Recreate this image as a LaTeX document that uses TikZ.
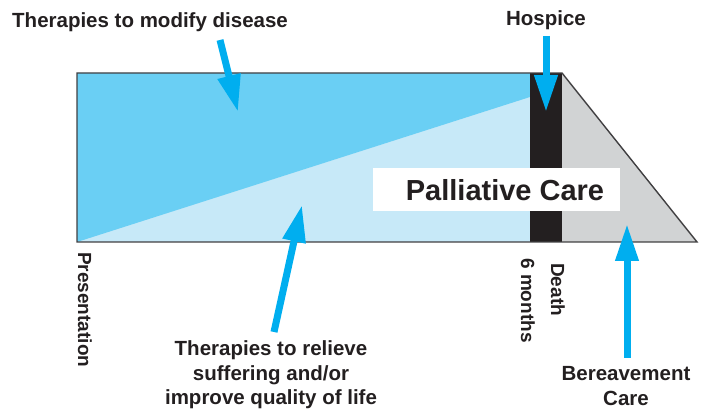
\documentclass[tikz,border=0pt]{standalone}
\usepackage{fontspec}
\setmainfont{Liberation Sans}
\usetikzlibrary{arrows.meta}
\definecolor{darkblue}{HTML}{6ACFF4}
\definecolor{lightblue}{HTML}{C7E9F8}
\definecolor{barblack}{HTML}{231F20}
\definecolor{greyfill}{HTML}{D1D3D4}
\definecolor{cyanarrow}{HTML}{00AEEF}
\definecolor{outline}{HTML}{414042}
\definecolor{txt}{HTML}{231F20}
\tikzset{
  lbl/.style={font=\fontsize{20.5}{24.5}\selectfont\bfseries, text=txt, inner sep=0pt, align=center},
  vlbl/.style={font=\fontsize{19}{22}\selectfont\bfseries, text=txt, inner sep=0pt, rotate=-90, anchor=west},
  bigarrow/.style={draw=cyanarrow, line width=7pt, -{Triangle[length=37pt,width=22pt]}},
  edge/.style={draw=outline, line width=1.4pt}
}
\begin{document}
\begin{tikzpicture}[x=1pt,y=-1pt]
\useasboundingbox (0,0) rectangle (705,411);
% regions
\fill[lightblue] (77,73) rectangle (530,242);
\fill[darkblue] (77,73) -- (530,73) -- (530,97) -- (77,242) -- cycle;
\fill[barblack] (530,73) rectangle (562,242);
\fill[greyfill] (562,73) -- (697,242) -- (562,242) -- cycle;
% outlines
\draw[edge, line join=miter] (562,73) -- (77,73) -- (77,242) -- (697,242) -- cycle;
% palliative care box
\node[fill=white, minimum width=247pt, minimum height=43pt, inner sep=0pt] (pcbox) at (496.5,189.5) {};
\node[font=\fontsize{29}{32}\selectfont\bfseries, text=txt, inner sep=0pt] (pc) at (505,190) {Palliative Care};
% labels
\node[lbl, anchor=west] (mod) at (12,22) {Therapies to modify disease};
\node[lbl] (hos) at (546,20) {Hospice};
\node[lbl] (rel) at (271,375) {Therapies to relieve\\suffering and/or\\improve quality of life};
\node[lbl] (ber) at (626,386) {Bereavement\\Care};
\node[vlbl] (pres) at (85,252) {Presentation};
\node[vlbl] (six) at (528,258) {6 months};
\node[vlbl] (death) at (558,263) {Death};
% arrow coordinates
\coordinate (modT) at (220,40);  \coordinate (modH) at (238,112);
\coordinate (hosT) at (546,36);  \coordinate (hosH) at (546,112);
\coordinate (relT) at (274,332); \coordinate (relH) at (302,205);
\coordinate (berT) at (627,358); \coordinate (berH) at (627,224);
\draw[bigarrow] (modT) -- (modH);
\draw[bigarrow] (hosT) -- (hosH);
\draw[bigarrow] (relT) -- (relH);
\draw[bigarrow] (berT) -- (berH);
\end{tikzpicture}
\end{document}
